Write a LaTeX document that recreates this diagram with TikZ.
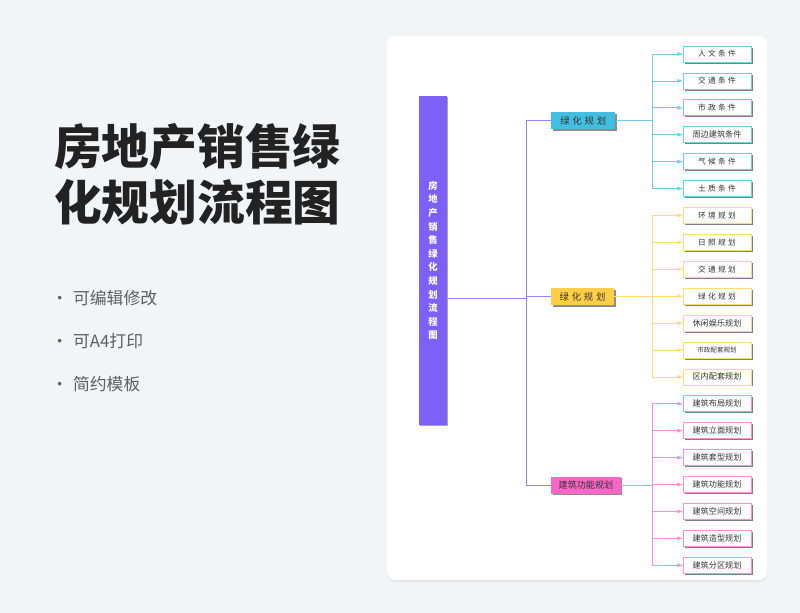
\documentclass[tikz,border=0pt]{standalone}
\usepackage{fontspec}
\setmainfont{Noto Sans CJK SC}
\newfontfamily\widecjk[LetterSpace=30]{Noto Sans CJK SC}
\usepackage{xcolor}
\usepackage{tikz}
\usetikzlibrary{arrows.meta, positioning, calc, shadows}
\definecolor{mybg}{RGB}{243,244,246}
\definecolor{mytitle}{RGB}{34,34,34}
\definecolor{mygrey}{RGB}{95,95,95}
\definecolor{mytext}{RGB}{51,51,51}
\definecolor{mypurple}{RGB}{125,96,248}
\definecolor{lnpurple}{RGB}{150,130,255}
\definecolor{myblue}{RGB}{66,190,225}
\definecolor{lnblue}{RGB}{110,205,232}
\definecolor{myyellow}{RGB}{255,205,70}
\definecolor{lnyellow}{RGB}{255,218,120}
\definecolor{mypink}{RGB}{248,102,200}
\definecolor{lnpink}{RGB}{250,145,212}
\tikzset{
  rootblock/.style={rectangle, fill=mypurple, text=white,
    minimum width=21pt, minimum height=246.75pt, inner sep=0pt,
    font=\bfseries\fontsize{7}{10.2}\selectfont, align=center,
    drop shadow={shadow xshift=1pt, shadow yshift=-1pt, fill=black, opacity=0.35}},
  midblock/.style={rectangle, text=mytext, minimum height=12.75pt,
    inner sep=1pt, anchor=west,
    drop shadow={shadow xshift=1.2pt, shadow yshift=-1.2pt, fill=black, opacity=0.45}},
  bluemid/.style={midblock, fill=myblue, minimum width=48pt, font=\widecjk\fontsize{7}{8}\selectfont},
  yellowmid/.style={midblock, fill=myyellow, minimum width=47pt, font=\widecjk\fontsize{7}{8}\selectfont},
  pinkmid/.style={midblock, fill=mypink, minimum width=52pt, font=\fontsize{6.8}{8}\selectfont},
  leafblock/.style={rectangle, fill=white, line width=0.5pt, text=mytext,
    minimum width=51pt, minimum height=12pt, inner sep=1pt,
    font=\fontsize{6.1}{7}\selectfont,
    drop shadow={shadow xshift=1.2pt, shadow yshift=-1.2pt, fill=black, opacity=0.5}},
  blueleaf/.style={leafblock, draw=lnblue},
  yellowleaf/.style={leafblock, draw=lnyellow},
  pinkleaf/.style={leafblock, draw=lnpink},
  wide/.style={font=\widecjk\fontsize{5.8}{7}\selectfont},
  rootline/.style={line width=0.7pt, color=lnpurple},
  bluearrow/.style={-{Triangle[length=4pt, width=2.6pt]}, line width=0.5pt, color=lnblue},
  yellowarrow/.style={-{Triangle[length=4pt, width=2.6pt]}, line width=0.5pt, color=lnyellow},
  pinkarrow/.style={-{Triangle[length=4pt, width=2.6pt]}, line width=0.5pt, color=lnpink},
  bluetrunk/.style={line width=0.5pt, color=lnblue},
  yellowtrunk/.style={line width=0.5pt, color=lnyellow},
  pinktrunk/.style={line width=0.5pt, color=lnpink}
}

\begin{document}
\begin{tikzpicture}[x=0.75pt, y=-0.75pt, node distance=7.68pt,
  titletext/.style={font=\bfseries\fontsize{35.8}{42}\selectfont, text=mytitle,
    align=left, inner sep=0pt, anchor=west},
  bullettext/.style={font=\fontsize{12.6}{14}\selectfont, text=mygrey,
    inner sep=0pt, anchor=west}]

  % Page and card
  \useasboundingbox[fill=mybg] (0,0) rectangle (800,613);
  \fill[white, rounded corners=6pt,
    drop shadow={shadow xshift=0pt, shadow yshift=-1.5pt, fill=black, opacity=0.06}]
    (387,36) rectangle (767,580);

  % Title and bullets
  \node[titletext] (title) at (54,174) {房地产销售绿\\化规划流程图};
  \node[bullettext] (bl1) at (51,298) {•\hspace{3.8pt}可编辑修改};
  \node[bullettext] (bl2) at (51,341) {•\hspace{3.8pt}可A4打印};
  \node[bullettext] (bl3) at (51,384) {•\hspace{3.8pt}简约模板};

  % Root
  \node[rootblock] (root) at (433,260.5) {房\\地\\产\\销\\售\\绿\\化\\规\\划\\流\\程\\图};

  % Branches
  \node[bluemid] (g1) at (551,120.5) {绿化规划};
  \node[yellowmid] (g2) at (551,296.7) {绿化规划};
  \node[pinkmid] (g3) at (551,485.3) {建筑功能规划};

  % Leaves
  \node[blueleaf, wide] (a1) at (717,54) {人文条件};
  \node[blueleaf, wide, below=of a1] (a2) {交通条件};
  \node[blueleaf, wide, below=of a2] (a3) {市政条件};
  \node[blueleaf, below=of a3] (a4) {周边建筑条件};
  \node[blueleaf, wide, below=of a4] (a5) {气候条件};
  \node[blueleaf, wide, below=of a5] (a6) {土质条件};
  \node[yellowleaf, wide, below=of a6] (b1) {环境规划};
  \node[yellowleaf, wide, below=of b1] (b2) {日照规划};
  \node[yellowleaf, wide, below=of b2] (b3) {交通规划};
  \node[yellowleaf, wide, below=of b3] (b4) {绿化规划};
  \node[yellowleaf, below=of b4] (b5) {休闲娱乐规划};
  \node[yellowleaf, below=of b5, font=\fontsize{4.9}{6}\selectfont] (b6) {市政配套规划};
  \node[yellowleaf, below=of b6] (b7) {区内配套规划};
  \node[pinkleaf, below=of b7] (c1) {建筑布局规划};
  \node[pinkleaf, below=of c1] (c2) {建筑立面规划};
  \node[pinkleaf, below=of c2] (c3) {建筑套型规划};
  \node[pinkleaf, below=of c3] (c4) {建筑功能规划};
  \node[pinkleaf, below=of c4] (c5) {建筑空间规划};
  \node[pinkleaf, below=of c5] (c6) {建筑造型规划};
  \node[pinkleaf, below=of c6] (c7) {建筑分区规划};

  % Root connectors
  \coordinate (rt) at (526,298.5);
  \draw[rootline] (root.east |- rt) -- (rt);
  \draw[rootline] (rt) |- (g1.west);
  \draw[rootline] (rt) |- (g2.west);
  \draw[rootline] (rt) |- (g3.west);

  % Branch connectors
  \coordinate (ta) at (652,120.5);
  \coordinate (tb) at (652,296.7);
  \coordinate (tc) at (652,485.3);
  \draw[bluetrunk] (g1.east) -- (ta);
  \draw[yellowtrunk] (g2.east) -- (tb);
  \draw[pinktrunk] (g3.east) -- (tc);
  \draw[bluearrow] (ta) |- (a1.west);
  \draw[bluearrow] (ta) |- (a2.west);
  \draw[bluearrow] (ta) |- (a3.west);
  \draw[bluearrow] (ta) |- (a4.west);
  \draw[bluearrow] (ta) |- (a5.west);
  \draw[bluearrow] (ta) |- (a6.west);
  \draw[yellowarrow] (tb) |- (b1.west);
  \draw[yellowarrow] (tb) |- (b2.west);
  \draw[yellowarrow] (tb) |- (b3.west);
  \draw[yellowarrow] (tb) |- (b4.west);
  \draw[yellowarrow] (tb) |- (b5.west);
  \draw[yellowarrow] (tb) |- (b6.west);
  \draw[yellowarrow] (tb) |- (b7.west);
  \draw[pinkarrow] (tc) |- (c1.west);
  \draw[pinkarrow] (tc) |- (c2.west);
  \draw[pinkarrow] (tc) |- (c3.west);
  \draw[pinkarrow] (tc) |- (c4.west);
  \draw[pinkarrow] (tc) |- (c5.west);
  \draw[pinkarrow] (tc) |- (c6.west);
  \draw[pinkarrow] (tc) |- (c7.west);
\end{tikzpicture}
\end{document}
